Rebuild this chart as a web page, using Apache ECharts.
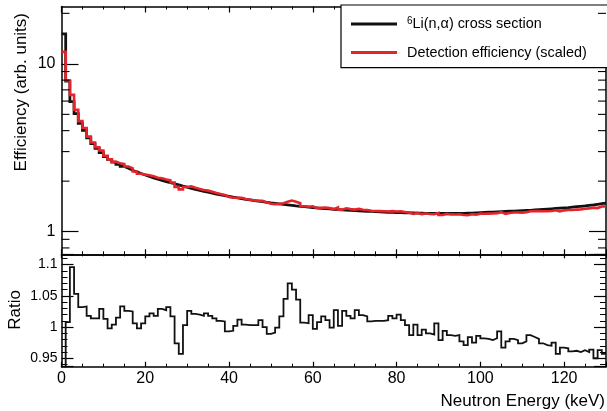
<!DOCTYPE html>
<html><head><meta charset="utf-8">
<script src="https://cdn.jsdelivr.net/npm/echarts@6/dist/echarts.min.js"></script>
<style>html,body{margin:0;padding:0;background:#fff}#c{width:607px;height:411px}</style>
</head><body><div id="c"></div><script>
// Bin edges (keV), 1 keV bins
const binEdges = [0,1,2,3,4,5,6,7,8,9,10,11,12,13,14,15,16,17,18,19,20,21,22,23,24,25,26,27,28,29,30,
31,32,33,34,35,36,37,38,39,40,41,42,43,44,45,46,47,48,49,50,51,52,53,54,55,56,57,58,59,60,
61,62,63,64,65,66,67,68,69,70,71,72,73,74,75,76,77,78,79,80,81,82,83,84,85,86,87,88,89,90,
91,92,93,94,95,96,97,98,99,100,101,102,103,104,105,106,107,108,109,110,111,112,113,114,115,
116,117,118,119,120,121,122,123,124,125,126,127,128,129,130];

// 6Li(n,alpha) cross section (black)
const crossSection = [15.1, 7.9, 5.96, 5.05, 4.42, 4.02, 3.62, 3.35, 3.14, 2.96,
 2.80, 2.70, 2.60, 2.52, 2.45, 2.385, 2.325, 2.27, 2.22, 2.175,
 2.133, 2.093, 2.056, 2.022, 1.989, 1.959, 1.930, 1.898, 1.867, 1.840,
 1.813, 1.787, 1.763, 1.739, 1.718, 1.697, 1.676, 1.658, 1.639, 1.622,
 1.604, 1.589, 1.573, 1.558, 1.545, 1.532, 1.520, 1.508, 1.495, 1.483,
 1.473, 1.463, 1.453, 1.443, 1.433, 1.423, 1.415, 1.408, 1.400, 1.392,
 1.384, 1.377, 1.371, 1.366, 1.360, 1.355, 1.349, 1.343, 1.338, 1.334,
 1.330, 1.327, 1.323, 1.320, 1.316, 1.313, 1.309, 1.305, 1.302, 1.300,
 1.298, 1.296, 1.295, 1.293, 1.291, 1.289, 1.287, 1.286, 1.286, 1.284,
 1.284, 1.284, 1.284, 1.284, 1.286, 1.287, 1.289, 1.291, 1.295, 1.298,
 1.302, 1.305, 1.309, 1.313, 1.316, 1.320, 1.323, 1.327, 1.330, 1.334,
 1.338, 1.341, 1.347, 1.353, 1.358, 1.364, 1.369, 1.375, 1.381, 1.386,
 1.392, 1.400, 1.408, 1.415, 1.423, 1.433, 1.443, 1.455, 1.467, 1.479];

// Detection efficiency, scaled (red)
const efficiency = [11.78, 7.96, 6.53, 5.32, 4.56, 4.15, 3.685, 3.397, 3.184, 3.046,
 2.836, 2.695, 2.610, 2.558, 2.531, 2.447, 2.383, 2.284, 2.216, 2.188,
 2.169, 2.139, 2.093, 2.081, 2.043, 2.022, 1.963, 1.849, 1.787, 1.846,
 1.860, 1.825, 1.798, 1.770, 1.756, 1.728, 1.699, 1.675, 1.654, 1.611,
 1.594, 1.592, 1.592, 1.564, 1.550, 1.537, 1.525, 1.525, 1.495, 1.467,
 1.460, 1.462, 1.478, 1.508, 1.533, 1.508, 1.477, 1.418, 1.408, 1.418,
 1.380, 1.388, 1.394, 1.381, 1.359, 1.392, 1.352, 1.378, 1.362, 1.353,
 1.366, 1.352, 1.345, 1.332, 1.329, 1.326, 1.322, 1.319, 1.325, 1.318,
 1.324, 1.310, 1.299, 1.276, 1.296, 1.272, 1.282, 1.273, 1.271, 1.292,
 1.257, 1.276, 1.267, 1.266, 1.269, 1.257, 1.252, 1.270, 1.263, 1.280,
 1.279, 1.280, 1.282, 1.289, 1.307, 1.276, 1.293, 1.302, 1.302, 1.299,
 1.307, 1.324, 1.325, 1.327, 1.323, 1.324, 1.328, 1.341, 1.322, 1.340,
 1.345, 1.345, 1.354, 1.358, 1.370, 1.376, 1.391, 1.382, 1.413, 1.415];

// Ratio efficiency / cross section
const ratio = [0.78, 1.008, 1.096, 1.053, 1.032, 1.033, 1.018, 1.014, 1.014, 1.029,
 1.013, 0.998, 1.004, 1.015, 1.033, 1.026, 1.025, 1.006, 0.998, 1.006,
 1.017, 1.022, 1.018, 1.029, 1.027, 1.032, 1.017, 0.974, 0.957, 1.003,
 1.026, 1.021, 1.020, 1.018, 1.022, 1.018, 1.014, 1.010, 1.009, 0.993,
 0.994, 1.002, 1.012, 1.004, 1.003, 1.003, 1.003, 1.011, 1.000, 0.989,
 0.991, 0.999, 1.017, 1.045, 1.070, 1.060, 1.044, 1.007, 1.006, 1.019,
 0.997, 1.008, 1.017, 1.011, 0.999, 1.027, 1.002, 1.026, 1.018, 1.014,
 1.027, 1.019, 1.017, 1.009, 1.010, 1.010, 1.010, 1.011, 1.018, 1.014,
 1.020, 1.011, 1.003, 0.987, 1.004, 0.987, 0.996, 0.990, 0.988, 1.006,
 0.979, 0.994, 0.987, 0.986, 0.987, 0.977, 0.971, 0.984, 0.975, 0.986,
 0.982, 0.981, 0.979, 0.982, 0.993, 0.967, 0.977, 0.981, 0.979, 0.974,
 0.977, 0.987, 0.984, 0.981, 0.974, 0.971, 0.970, 0.975, 0.957, 0.967,
 0.966, 0.961, 0.962, 0.960, 0.963, 0.960, 0.964, 0.950, 0.963, 0.957];

// Minor tick positions on the logarithmic axis
const logMinorTicks = [0.8, 0.9, 2, 3, 4, 5, 6, 7, 8, 9, 20];

const csName = '6Li(n,α) cross section';
const effName = 'Detection efficiency (scaled)';
const xTitle = 'Neutron Energy (keV)';
const yTitleTop = 'Efficiency (arb. units)';
const yTitleBottom = 'Ratio';

const X_MIN = 0, X_MAX = 130;
const TOP_MIN = 0.733, TOP_MAX = 21.97;
const R_MIN = 0.9365, R_MAX = 1.1165;
const FONT = 'Liberation Sans, Arial, Helvetica, sans-serif';

function histPoints(vals) {
  const pts = vals.map((v, i) => [binEdges[i], v]);
  pts.push([binEdges[vals.length], vals[vals.length - 1]]);
  return pts;
}

const lineAx = {show: true, onZero: false, lineStyle: {color: '#000', width: 1.5}};

function xAxisCfg(gridIndex, position, major, minor, labels) {
  return {
    gridIndex, type: 'value', min: X_MIN, max: X_MAX, interval: 20, position,
    axisLine: lineAx,
    axisTick: {show: true, inside: true, length: major, lineStyle: {color: '#000', width: 1.2}},
    minorTick: {show: true, splitNumber: 4, length: minor, lineStyle: {color: '#000', width: 1}},
    splitLine: {show: false},
    axisLabel: labels ? {show: true, color: '#000', fontFamily: FONT, fontSize: 16, margin: 4,
      showMinLabel: true, showMaxLabel: false} : {show: false}
  };
}

function logAxisCfg(position, labels) {
  return {
    gridIndex: 0, type: 'log', logBase: 10, min: TOP_MIN, max: TOP_MAX, position,
    axisLine: lineAx,
    axisTick: {show: true, inside: true, length: 17, lineStyle: {color: '#000', width: 1.2}},
    minorTick: {show: false},
    splitLine: {show: false},
    axisLabel: labels ? {show: true, color: '#000', fontFamily: FONT, fontSize: 16, margin: 6,
      showMinLabel: false, showMaxLabel: false, formatter: v => String(+v.toPrecision(3))} : {show: false}
  };
}

function ratioAxisCfg(position, labels) {
  return {
    gridIndex: 1, type: 'value', min: R_MIN, max: R_MAX, splitNumber: 4, position,
    axisLine: lineAx,
    axisTick: {show: true, inside: true, length: 12, lineStyle: {color: '#000', width: 1.2}},
    minorTick: {show: true, splitNumber: 5, length: 6, lineStyle: {color: '#000', width: 1}},
    splitLine: {show: false},
    axisLabel: labels ? {show: true, color: '#000', fontFamily: FONT, fontSize: 14, margin: 4,
      showMinLabel: false, showMaxLabel: false, formatter: v => String(+v.toFixed(2))} : {show: false}
  };
}

const chart = echarts.init(document.getElementById('c'), null, {renderer: 'canvas'});
chart.setOption({
  animation: false,
  backgroundColor: '#fff',
  grid: [
    {left: 61.5, right: 1, top: 6.5, height: 247.8},
    {left: 61.5, right: 1, top: 254.3, height: 112.4}
  ],
  xAxis: [
    xAxisCfg(0, 'bottom', 5, 3, false),
    xAxisCfg(0, 'top', 6, 3, false),
    xAxisCfg(1, 'bottom', 5, 3, true),
    xAxisCfg(1, 'top', 4, 2, false)
  ],
  yAxis: [
    logAxisCfg('left', true),
    logAxisCfg('right', false),
    ratioAxisCfg('left', true),
    ratioAxisCfg('right', false)
  ],
  legend: {
    data: [csName, effName],
    orient: 'vertical',
    left: 341, top: 5,
    itemWidth: 46, itemHeight: 3, itemGap: 14.6,
    icon: 'rect',
    padding: [11, 31, 8, 10],
    borderColor: '#000', borderWidth: 1.2,
    backgroundColor: '#fff',
    formatter: name => name === csName ? '{sup|6}{t|Li(n,α) cross section}' : '{t|' + name + '}',
    textStyle: {
      color: '#000', fontFamily: FONT, fontSize: 14.4, padding: [0, 0, 0, 5],
      rich: {
        sup: {fontSize: 10, fontFamily: FONT, color: '#000', lineHeight: 16, verticalAlign: 'top'},
        t: {fontSize: 14.4, fontFamily: FONT, color: '#000', lineHeight: 16}
      }
    }
  },
  graphic: [
    {type: 'text', x: 21, y: 13, rotation: Math.PI / 2,
      style: {text: yTitleTop, fontFamily: FONT, fontSize: 17, fill: '#000', align: 'right', verticalAlign: 'middle'}},
    {type: 'text', x: 15, y: 290, rotation: Math.PI / 2,
      style: {text: yTitleBottom, fontFamily: FONT, fontSize: 17, fill: '#000', align: 'right', verticalAlign: 'middle'}},
    {type: 'text', x: 605, y: 401,
      style: {text: xTitle, fontFamily: FONT, fontSize: 17, fill: '#000', align: 'right', verticalAlign: 'middle'}}
  ],
  series: [
    {
      name: csName, type: 'line', step: 'end', xAxisIndex: 0, yAxisIndex: 0,
      data: histPoints(crossSection), showSymbol: false, symbol: 'none', z: 3,
      itemStyle: {color: '#111'},
      lineStyle: {color: '#111', width: 2.8, join: 'miter', cap: 'butt'}
    },
    {
      name: effName, type: 'line', step: 'end', xAxisIndex: 0, yAxisIndex: 0,
      data: histPoints(efficiency), showSymbol: false, symbol: 'none', z: 4,
      itemStyle: {color: '#e4232a'},
      lineStyle: {color: '#e4232a', width: 2.6, join: 'miter', cap: 'butt'}
    },
    {
      name: 'Ratio', type: 'line', step: 'end', xAxisIndex: 2, yAxisIndex: 2,
      data: histPoints(ratio), showSymbol: false, symbol: 'none', z: 3, clip: true,
      itemStyle: {color: '#111'},
      lineStyle: {color: '#111', width: 1.8, join: 'miter', cap: 'butt'}
    },
    {
      name: 'logMinor', type: 'custom', xAxisIndex: 0, yAxisIndex: 0, silent: true, clip: false, z: 5,
      data: logMinorTicks.map(v => [X_MIN, v]),
      renderItem: (params, api) => {
        const v = api.value(1);
        const pl = api.coord([X_MIN, v]);
        const pr = api.coord([X_MAX, v]);
        const st = {stroke: '#000', lineWidth: 1.1};
        return {type: 'group', children: [
          {type: 'line', shape: {x1: pl[0], y1: pl[1], x2: pl[0] + 8, y2: pl[1]}, style: st},
          {type: 'line', shape: {x1: pr[0], y1: pr[1], x2: pr[0] - 8, y2: pr[1]}, style: st}
        ]};
      }
    }
  ]
});
</script></body></html>
